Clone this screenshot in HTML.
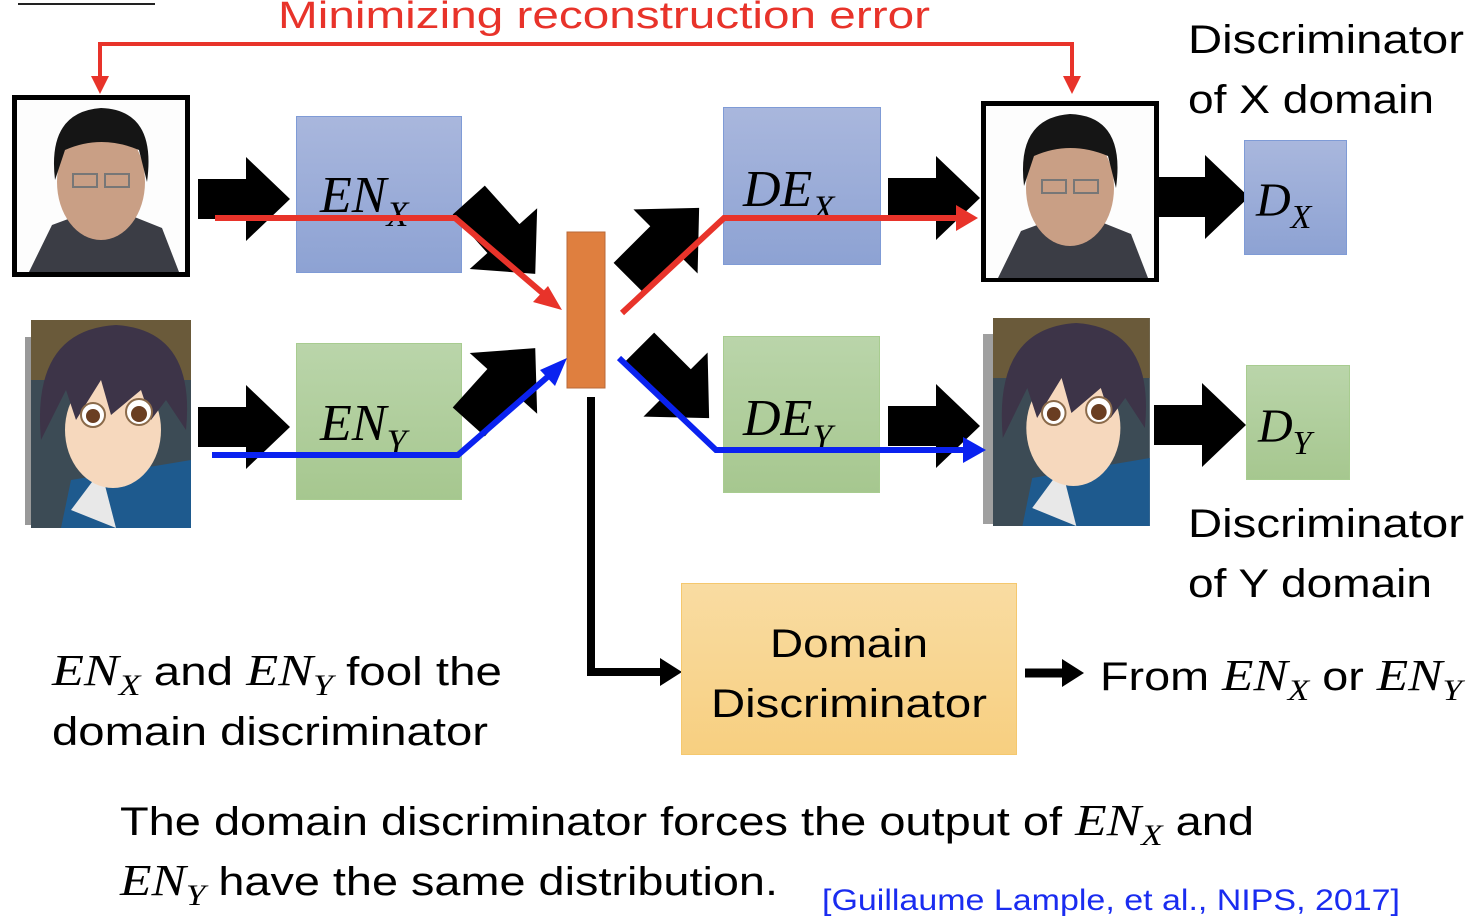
<!DOCTYPE html>
<html><head><meta charset="utf-8"><style>
html,body{margin:0;padding:0;background:#fff;width:1482px;height:922px;overflow:hidden}
svg{display:block}
.s{font-family:"Liberation Sans",sans-serif}
.m{font-family:"Liberation Serif",serif;font-style:italic}
</style></head><body>
<svg width="1482" height="922" viewBox="0 0 1482 922" xmlns="http://www.w3.org/2000/svg">
<defs>
<linearGradient id="gb" x1="0" y1="0" x2="0" y2="1"><stop offset="0" stop-color="#a9b7dd"/><stop offset="1" stop-color="#8da2d3"/></linearGradient>
<linearGradient id="gg" x1="0" y1="0" x2="0" y2="1"><stop offset="0" stop-color="#bad5aa"/><stop offset="1" stop-color="#a6c78f"/></linearGradient>
<linearGradient id="gy" x1="0" y1="0" x2="0" y2="1"><stop offset="0" stop-color="#f9dca2"/><stop offset="1" stop-color="#f7cf80"/></linearGradient>
<g id="ar"><polygon points="-46,-20 2,-20 2,-42 46,0 2,42 2,20 -46,20" fill="#000"/></g>
<g id="face">
<rect x="0" y="0" width="168" height="172" fill="#fdfdfd"/>
<path d="M12,172 L35,125 L70,112 L105,112 L145,128 L162,172 Z" fill="#3b3d45"/>
<ellipse cx="84" cy="82" rx="44" ry="58" fill="#c99f85"/>
<path d="M38,80 Q30,12 84,8 Q140,10 130,82 L122,50 Q84,34 48,50 Z" fill="#151515"/>
<rect x="56" y="74" width="24" height="13" fill="none" stroke="#777" stroke-width="2"/>
<rect x="88" y="74" width="24" height="13" fill="none" stroke="#777" stroke-width="2"/>
</g>
<g id="anime">
<rect x="0" y="0" width="160" height="208" fill="#3c4b55"/>
<rect x="0" y="0" width="160" height="60" fill="#6a5a3a"/>
<path d="M30,208 L40,160 L100,150 L160,140 L160,208 Z" fill="#1e5a8e"/>
<path d="M40,190 L70,150 L85,208 Z" fill="#e8e8e8"/>
<ellipse cx="82" cy="110" rx="48" ry="58" fill="#f6d8bd"/>
<path d="M10,120 Q0,10 85,5 Q165,10 155,110 L135,80 L120,100 L110,70 L80,95 L70,60 L45,100 L35,70 Z" fill="#3d3448"/>
<circle cx="62" cy="95" r="12" fill="#fff" stroke="#8a6a4a" stroke-width="2"/>
<circle cx="108" cy="92" r="13" fill="#fff" stroke="#8a6a4a" stroke-width="2"/>
<circle cx="62" cy="96" r="7" fill="#6a3e22"/>
<circle cx="108" cy="94" r="8" fill="#6a3e22"/>
</g>
</defs>

<line x1="18" y1="4" x2="155" y2="4" stroke="#222" stroke-width="2"/>
<text x="278" y="28" class="s" font-size="38" fill="#e8332a" textLength="652" lengthAdjust="spacingAndGlyphs">Minimizing reconstruction error</text>

<polyline points="100,80 100,44 1072,44 1072,80" fill="none" stroke="#e8332a" stroke-width="4"/>
<polygon points="91,76 109,76 100,94" fill="#e8332a"/>
<polygon points="1063,76 1081,76 1072,94" fill="#e8332a"/>

<rect x="12" y="95" width="178" height="182" fill="#000"/>
<use href="#face" transform="translate(17,100)"/>
<rect x="25" y="337" width="8" height="188" fill="#999"/>
<use href="#anime" transform="translate(31,320)"/>

<rect x="296.5" y="116.5" width="165" height="156" fill="url(#gb)" stroke="#7f9bd6"/>
<rect x="296.5" y="343.5" width="165" height="156" fill="url(#gg)" stroke="#a8cc90"/>
<text x="320" y="212" class="m" font-size="52">EN<tspan font-size="36" dy="14">X</tspan></text>
<text x="320" y="440" class="m" font-size="52">EN<tspan font-size="36" dy="14">Y</tspan></text>

<use href="#ar" transform="translate(244,199)"/>
<use href="#ar" transform="translate(244,427)"/>
<use href="#ar" transform="translate(502,237) rotate(48) scale(1.08)"/>
<use href="#ar" transform="translate(502,385) rotate(-48) scale(1.08)"/>
<use href="#ar" transform="translate(664,243) rotate(-45) scale(1.08)"/>
<use href="#ar" transform="translate(674,383) rotate(45) scale(1.08)"/>
<use href="#ar" transform="translate(934,198)"/>
<use href="#ar" transform="translate(934,426)"/>
<use href="#ar" transform="translate(1203,197)"/>
<use href="#ar" transform="translate(1200,425)"/>

<rect x="567" y="232" width="38" height="156" fill="#df7f3f" stroke="#b86a3a"/>

<rect x="723.5" y="107.5" width="157" height="157" fill="url(#gb)" stroke="#7f9bd6"/>
<rect x="723.5" y="336.5" width="156" height="156" fill="url(#gg)" stroke="#a8cc90"/>
<text x="743" y="206" class="m" font-size="52">DE<tspan font-size="36" dy="14">X</tspan></text>
<text x="743" y="435" class="m" font-size="52">DE<tspan font-size="36" dy="14">Y</tspan></text>

<rect x="981" y="101" width="178" height="181" fill="#000"/>
<use href="#face" transform="translate(986,106)"/>
<rect x="983" y="334" width="12" height="190" fill="#a0a0a0"/>
<use href="#anime" transform="translate(993,318) scale(0.98,1)"/>

<rect x="1244.5" y="140.5" width="102" height="114" fill="url(#gb)" stroke="#7f9bd6"/>
<rect x="1246.5" y="365.5" width="103" height="114" fill="url(#gg)" stroke="#a8cc90"/>
<text x="1256" y="216" class="m" font-size="48">D<tspan font-size="34" dy="12">X</tspan></text>
<text x="1258" y="442" class="m" font-size="48">D<tspan font-size="34" dy="12">Y</tspan></text>

<polyline points="215,218 455,218 546,296" fill="none" stroke="#e8332a" stroke-width="6"/>
<polygon points="562,310 533,302 548,286" fill="#e8332a"/>
<polyline points="622,313 724,218 962,218" fill="none" stroke="#e8332a" stroke-width="6"/>
<polygon points="978,218 956,205 956,231" fill="#e8332a"/>
<polyline points="212,455 458,455 552,373" fill="none" stroke="#0a22f0" stroke-width="6"/>
<polygon points="567,358 540,370 555,386" fill="#0a22f0"/>
<polyline points="619,358 716,450 968,450" fill="none" stroke="#0a22f0" stroke-width="6"/>
<polygon points="986,450 963,437 963,463" fill="#0a22f0"/>

<polyline points="591,397 591,672 664,672" fill="none" stroke="#000" stroke-width="8"/>
<polygon points="682,672 660,658 660,686" fill="#000"/>

<rect x="681.5" y="583.5" width="335" height="171" fill="url(#gy)" stroke="#f5c86e"/>
<text x="849" y="657" class="s" font-size="40" text-anchor="middle" textLength="158" lengthAdjust="spacingAndGlyphs">Domain</text>
<text x="849" y="717" class="s" font-size="40" text-anchor="middle" textLength="276" lengthAdjust="spacingAndGlyphs">Discriminator</text>

<polyline points="1025,673 1066,673" stroke="#000" stroke-width="9"/>
<polygon points="1084,673 1062,659 1062,687" fill="#000"/>
<text x="1100" y="690" class="s" font-size="40" textLength="362" lengthAdjust="spacingAndGlyphs">From <tspan class="m" font-size="44">EN</tspan><tspan class="m" font-size="30" dy="10">X</tspan><tspan dy="-10"> or </tspan><tspan class="m" font-size="44">EN</tspan><tspan class="m" font-size="30" dy="10">Y</tspan></text>

<text x="1188" y="53" class="s" font-size="40" textLength="276" lengthAdjust="spacingAndGlyphs">Discriminator</text>
<text x="1188" y="113" class="s" font-size="40" textLength="246" lengthAdjust="spacingAndGlyphs">of X domain</text>
<text x="1188" y="537" class="s" font-size="40" textLength="276" lengthAdjust="spacingAndGlyphs">Discriminator</text>
<text x="1188" y="597" class="s" font-size="40" textLength="244" lengthAdjust="spacingAndGlyphs">of Y domain</text>

<text x="52" y="685" class="s" font-size="40" textLength="450" lengthAdjust="spacingAndGlyphs"><tspan class="m" font-size="44">EN</tspan><tspan class="m" font-size="30" dy="10">X</tspan><tspan dy="-10"> and </tspan><tspan class="m" font-size="44">EN</tspan><tspan class="m" font-size="30" dy="10">Y</tspan><tspan dy="-10"> fool the</tspan></text>
<text x="52" y="745" class="s" font-size="40" textLength="436" lengthAdjust="spacingAndGlyphs">domain discriminator</text>

<text x="120" y="835" class="s" font-size="40" textLength="1134" lengthAdjust="spacingAndGlyphs">The domain discriminator forces the output of <tspan class="m" font-size="44">EN</tspan><tspan class="m" font-size="30" dy="10">X</tspan><tspan dy="-10"> and</tspan></text>
<text x="120" y="895" class="s" font-size="40" textLength="658" lengthAdjust="spacingAndGlyphs"><tspan class="m" font-size="44">EN</tspan><tspan class="m" font-size="30" dy="10">Y</tspan><tspan dy="-10"> have the same distribution.</tspan></text>
<text x="822" y="910" class="s" font-size="30" fill="#1a2cf0" textLength="578" lengthAdjust="spacingAndGlyphs">[Guillaume Lample, et al., NIPS, 2017]</text>
</svg>
</body></html>
